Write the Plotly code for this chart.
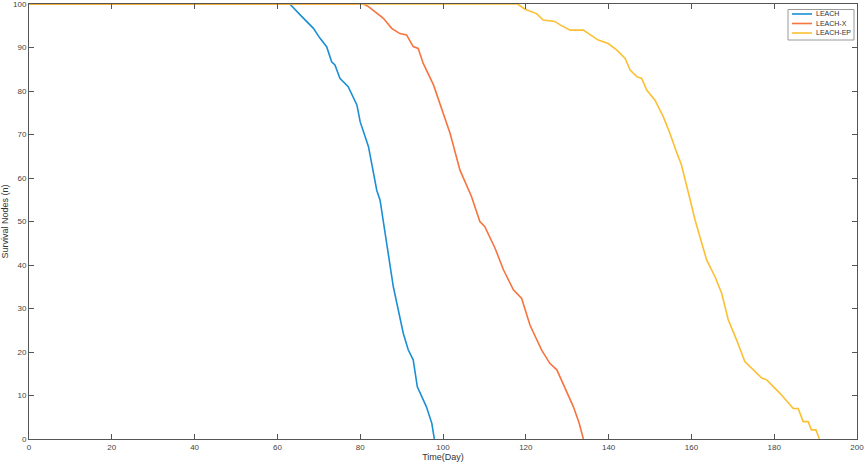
import plotly.graph_objects as go

# ---- data ----
series_names = ["LEACH", "LEACH-X", "LEACH-EP"]

leach_x = [0, 63, 65.5, 68.7, 70.3, 71.9, 73.1, 73.9, 75.1, 77.1, 79.2, 80, 82, 84, 84.8,
           86.4, 88, 90.4, 91.6, 92.8, 93.8, 96, 97.3, 97.9]
leach_y = [100, 100, 97.5, 94.4, 92.1, 90.2, 86.7, 86, 82.9, 81, 76.8, 72.9, 67.2, 57.2, 54.9,
           45, 35, 24.3, 20.5, 18.2, 12, 7.4, 3.6, 0]

leachx_x = [0, 80.8, 82, 83.6, 85.6, 87.6, 89.6, 91.2, 92.8, 94, 95.2, 97.7, 100.1, 101.7,
            104.1, 106.9, 108.9, 110.1, 112.6, 114.6, 117, 119, 121, 123.8, 125.8, 127.5,
            131.5, 132.9, 133.9]
leachx_y = [100, 100, 99.4, 98.2, 96.7, 94.4, 93.2, 92.9, 90.2, 89.8, 86.4, 81.4, 74.9, 70.3,
            61.8, 55.7, 50, 48.8, 43.8, 38.9, 34.3, 32.3, 26.2, 20.5, 17.4, 15.9,
            7.4, 3.6, 0]

leachep_x = [0, 118, 119.8, 122.6, 124.2, 127, 128.3, 130.7, 133.9, 135.5, 137.5, 139.9, 142,
             144, 145.2, 146.8, 148, 149.2, 151.2, 153.2, 154.8, 156.4, 157.6, 159.3, 160.9,
             163.7, 165.7, 167.3, 168.9, 170.9, 172.9, 177, 178.2, 181.4, 184.6, 185.8, 187,
             188.2, 189, 190.1, 190.9]
leachep_y = [100, 100, 98.8, 97.8, 96.3, 96, 95.2, 94, 94, 92.9, 91.7, 90.9, 89.4,
             87.5, 84.8, 83.3, 82.9, 80.2, 77.9, 74.1, 70.3, 66, 63, 56.5, 50.3,
             41.1, 37.3, 33.5, 27.4, 22.8, 17.8, 14, 13.6, 10.5, 7, 7, 4,
             4, 2.1, 2.1, 0]

x_ticks = [0, 20, 40, 60, 80, 100, 120, 140, 160, 180, 200]
y_ticks = [0, 10, 20, 30, 40, 50, 60, 70, 80, 90, 100]

colors = ["#1a8fd6", "#f7733f", "#fbbf33"]
xs = [leach_x, leachx_x, leachep_x]
ys = [leach_y, leachx_y, leachep_y]

FONT = "Liberation Sans, Arial, sans-serif"

fig = go.Figure()
for name, x, y, c in zip(series_names, xs, ys, colors):
    fig.add_trace(go.Scatter(x=x, y=y, mode="lines", name=name,
                             line=dict(color=c, width=1.6), showlegend=False))

axis_common = dict(
    showgrid=False, zeroline=False, showline=True, linecolor="#555555", linewidth=1,
    mirror="ticks", ticks="inside", ticklen=5, tickcolor="#555555", tickwidth=1,
    automargin=False, ticklabeloverflow="allow",
    tickfont=dict(family=FONT, size=8, color="#444444"),
)

# ---- compact MATLAB-style legend box (top right, inside the axes) ----
W, H = 865, 466
ml, mr, mt, mb = 29, 8, 4, 27
pw, ph = W - ml - mr, H - mt - mb


def px_x(p):
    return (p - ml) / pw


def px_y(p):
    return (H - mb - p) / ph


shapes = [dict(type="rect", xref="paper", yref="paper",
               x0=px_x(788), x1=px_x(854), y0=px_y(40), y1=px_y(9.5),
               line=dict(color="#999999", width=1), fillcolor="white", layer="above")]
annotations = []
row_y = [14, 23.5, 33]
for name, c, ry in zip(series_names, colors, row_y):
    shapes.append(dict(type="line", xref="paper", yref="paper",
                       x0=px_x(792), x1=px_x(812), y0=px_y(ry), y1=px_y(ry),
                       line=dict(color=c, width=1.6), layer="above"))
    annotations.append(dict(xref="paper", yref="paper", x=px_x(814), y=px_y(ry),
                            text=name, showarrow=False, xanchor="left", yanchor="middle",
                            font=dict(family=FONT, size=7, color="#333333")))

fig.update_layout(
    width=W, height=H,
    margin=dict(l=ml, r=mr, t=mt, b=mb),
    paper_bgcolor="white", plot_bgcolor="white",
    xaxis=dict(range=[0, 200], tickvals=x_ticks,
               title=dict(text="Time(Day)", standoff=3,
                          font=dict(family=FONT, size=9, color="#333333")),
               **axis_common),
    yaxis=dict(range=[0, 100], tickvals=y_ticks,
               title=dict(text="Survival Nodes (n)", standoff=2,
                          font=dict(family=FONT, size=9, color="#333333")),
               **axis_common),
    shapes=shapes,
    annotations=annotations,
    showlegend=False,
)

fig.write_html("out.html",
               config={"displayModeBar": False},
               post_script="document.body.style.margin='0px';document.body.style.overflow='hidden';")
